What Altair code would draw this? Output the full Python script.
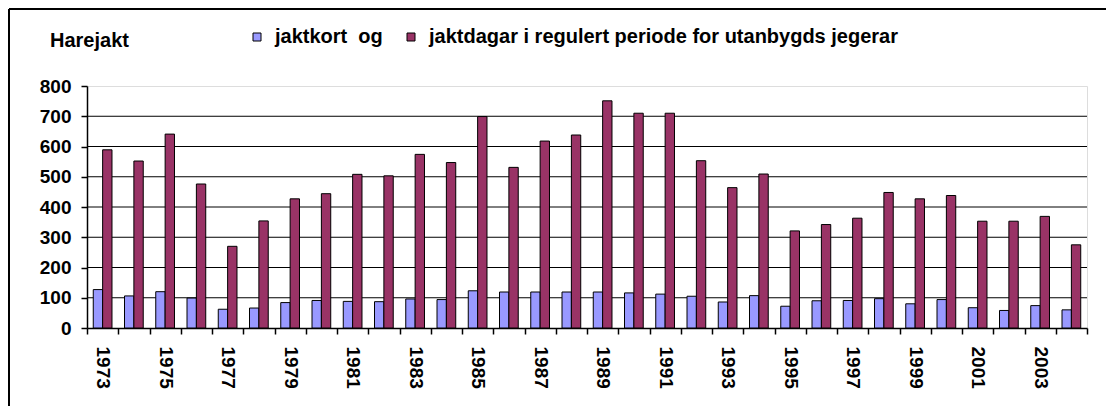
import altair as alt
import pandas as pd

years = list(range(1973, 2005))
jaktkort = [127, 106, 120, 99, 62, 66, 84, 91, 88, 87,
            96, 94, 123, 119, 119, 119, 119, 116, 112, 105,
            86, 107, 72, 90, 91, 97, 80, 94, 67, 58,
            74, 60]
jaktdagar = [589, 552, 641, 476, 270, 354, 427, 444, 508, 503,
             574, 547, 699, 531, 618, 638, 751, 710, 710, 553,
             464, 509, 321, 342, 363, 448, 427, 438, 353, 353,
             369, 275]
series_names = ["jaktkort\u00a0\u00a0og",
                "jaktdagar i regulert periode for utanbygds jegerar"]
series_colors = ["#9999FF", "#993366"]
y_ticks = [0, 100, 200, 300, 400, 500, 600, 700, 800]
grid_values = [100, 200, 300, 400, 500, 600, 700]
title_text = "Harejakt"

FONT = "Liberation Sans"

rows = []
for i, yr in enumerate(years):
    rows.append({"year": yr, "series": series_names[0], "value": jaktkort[i]})
    rows.append({"year": yr, "series": series_names[1], "value": jaktdagar[i]})
df = pd.DataFrame(rows)

W, H = 1000, 242

y_scale = alt.Scale(domain=[0, 800], nice=False)
y_axis = alt.Axis(title=None, values=y_ticks, grid=False,
                  tickSize=6, tickColor="black", tickWidth=1.5,
                  domainColor="black", domainWidth=1.5,
                  labelPadding=10, labelFont=FONT,
                  labelFontWeight="bold", labelFontSize=19,
                  labelColor="black")

grid = alt.Chart(pd.DataFrame({"value": grid_values})).mark_rule(
    color="black", strokeWidth=1
).encode(y=alt.Y("value:Q", scale=y_scale, axis=y_axis))

bars = alt.Chart(df).mark_bar(stroke="black", strokeWidth=1).encode(
    x=alt.X("year:O",
            scale=alt.Scale(paddingInner=0, paddingOuter=0),
            axis=alt.Axis(title=None, tickBand="extent", labelAngle=90,
                          labelExpr="datum.value % 2 == 1 ? datum.label : ''",
                          labelPadding=12, tickSize=6, tickColor="black",
                          tickWidth=1.5, domainColor="black", domainWidth=1.5,
                          labelFont=FONT, labelFontWeight="bold",
                          labelFontSize=19, labelColor="black")),
    xOffset=alt.XOffset("series:N",
                        scale=alt.Scale(domain=series_names, paddingInner=0,
                                        paddingOuter=0.667)),
    y=alt.Y("value:Q", scale=y_scale, axis=y_axis),
    color=alt.Color("series:N",
                    scale=alt.Scale(domain=series_names, range=series_colors),
                    legend=alt.Legend(title=None, orient="none",
                                      direction="horizontal",
                                      legendX=160, legendY=-59,
                                      symbolType="square", symbolSize=64,
                                      symbolStrokeColor="black",
                                      symbolStrokeWidth=1,
                                      symbolOpacity=1,
                                      labelFont=FONT, labelFontWeight="bold",
                                      labelFontSize=20, labelColor="black",
                                      labelLimit=800, labelOffset=8,
                                      columnPadding=18, padding=0)),
)

title = alt.Chart(pd.DataFrame({"t": [title_text]})).mark_text(
    align="left", baseline="alphabetic", font=FONT, fontWeight="bold",
    fontSize=20, color="black"
).encode(x=alt.value(-37), y=alt.value(-39), text="t:N")

frame = alt.Chart(pd.DataFrame({"k": [0]}))
frame_left = frame.mark_rule(color="black", strokeWidth=2).encode(
    x=alt.value(-78), y=alt.value(-77), y2=alt.value(330))
frame_top = frame.mark_rule(color="black", strokeWidth=2).encode(
    x=alt.value(-78), x2=alt.value(1030), y=alt.value(-77))

chart = alt.layer(grid, bars, title, frame_left, frame_top).properties(
    width=W, height=H,
    padding={"left": 79, "top": 78, "right": 19, "bottom": 78},
    autosize=alt.AutoSizeParams(type="none"),
).configure_view(stroke="#999999", strokeWidth=2.5).configure(
    background="white"
)

chart.save("out.html", embed_options={"renderer": "svg", "actions": False})
